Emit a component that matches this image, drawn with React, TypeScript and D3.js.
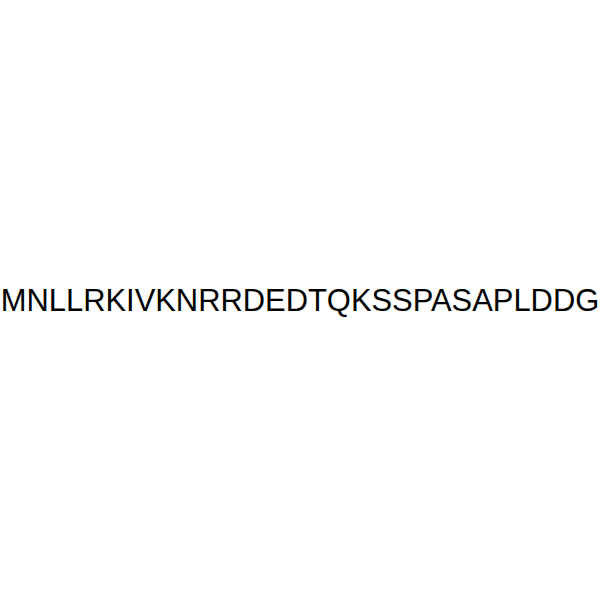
import { useEffect, useRef } from "react";
import * as d3 from "d3";

const sequence = ["MNLLRKIVKNRRDEDTQKSSPASAPLDDG"];

const W = 600;
const H = 600;

export default function App() {
  const ref = useRef<SVGSVGElement | null>(null);

  useEffect(() => {
    const svg = d3.select(ref.current!);
    svg.selectAll("*").remove();

    svg.append("rect").attr("width", W).attr("height", H).attr("fill", "#fff");

    svg
      .selectAll("text")
      .data(sequence)
      .join("text")
      .attr("x", W / 2)
      .attr("y", 311)
      .attr("text-anchor", "middle")
      .style("font-family", "'Liberation Sans', Arial, sans-serif")
      .style("font-size", "30.9px")
      .style("fill", "#000")
      .text((d) => d);
  }, []);

  return (
    <svg
      ref={ref}
      width={W}
      height={H}
      style={{ position: "absolute", left: 0, top: 0 }}
    />
  );
}
